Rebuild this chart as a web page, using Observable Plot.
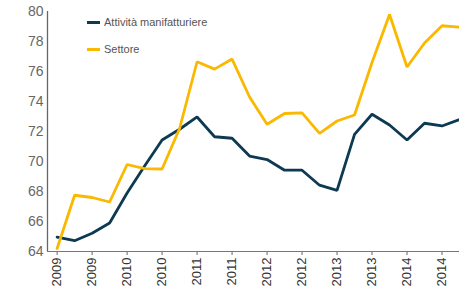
<!DOCTYPE html>
<html><head><meta charset="utf-8">
<script src="https://cdn.jsdelivr.net/npm/d3@7"></script>
<script src="https://cdn.jsdelivr.net/npm/@observablehq/plot@0.6"></script>
<style>
body{margin:0;background:#fff;font-family:"Liberation Sans",Arial,sans-serif;}
#wrap{position:relative;width:459px;height:287px;overflow:hidden;}
.leg{position:absolute;left:87px;font-size:11px;color:#555;display:flex;align-items:center;white-space:nowrap;}
.sw{width:13px;height:3px;margin-right:4px;}
</style></head><body>
<div id="wrap"></div>
<script>
const quarters = ["2009-Q1","2009-Q2","2009-Q3","2009-Q4","2010-Q1","2010-Q2","2010-Q3","2010-Q4","2011-Q1","2011-Q2","2011-Q3","2011-Q4","2012-Q1","2012-Q2","2012-Q3","2012-Q4","2013-Q1","2013-Q2","2013-Q3","2013-Q4","2014-Q1","2014-Q2","2014-Q3","2014-Q4"];
const manifatturiere = [64.96,64.72,65.22,65.9,67.9,69.7,71.43,72.15,72.97,71.65,71.55,70.36,70.13,69.42,69.42,68.42,68.08,71.81,73.15,72.43,71.43,72.55,72.37,72.8];
const settore = [64.2,67.75,67.6,67.3,69.8,69.53,69.5,72.2,76.65,76.16,76.83,74.3,72.48,73.2,73.24,71.88,72.7,73.1,76.6,79.8,76.3,77.9,79.05,78.95];
const tickLabels = ["2009","2009","2010","2010","2011","2011","2012","2012","2013","2013","2014","2014"];
const yTicks = [64,66,68,70,72,74,76,78,80];
const seriesNames = ["Attività manifatturiere","Settore"];
const colors = ["#0d3a52","#fbb800"];

const rows = [];
quarters.forEach((q,i)=>{
  rows.push({i, q, v: manifatturiere[i], s: seriesNames[0]});
  rows.push({i, q, v: settore[i], s: seriesNames[1]});
});
const tickIdx = tickLabels.map((_,k)=>k*2);
const x0 = -0.55;

const chart = Plot.plot({
  width: 459, height: 287,
  marginLeft: 47, marginRight: 0, marginTop: 11, marginBottom: 36,
  style: {fontFamily: '"Liberation Sans",Arial,sans-serif', background: "#fff"},
  x: {domain: [x0, quarters.length-1]},
  y: {domain: [64, 80]},
  color: {domain: seriesNames, range: colors},
  marks: [
    Plot.axisY(yTicks, {tickSize: 0, tickPadding: 4, fontSize: 14, fill: "#666", label: null}),
    Plot.axisX(tickIdx, {tickSize: 4, tickPadding: 2, tickRotate: -90, fontSize: 13, fill: "#333", stroke: "#666",
      tickFormat: (d)=> tickLabels[d/2], label: null}),
    Plot.ruleX([x0], {stroke: "#666", strokeWidth: 1.3}),
    Plot.ruleY([64], {stroke: "#777", strokeWidth: 1}),
    Plot.line(rows, {x: "i", y: "v", z: "s", stroke: "s", strokeWidth: 2.8, strokeLinejoin: "miter"})
  ]
});
const wrap = document.getElementById("wrap");
wrap.appendChild(chart);
[[23,0],[50,1]].forEach(([top,k])=>{
  const d = document.createElement("div");
  d.className = "leg";
  d.style.top = (top-7)+"px";
  d.innerHTML = `<span class="sw" style="background:${colors[k]}"></span><span>${seriesNames[k]}</span>`;
  wrap.appendChild(d);
});
</script>
</body></html>
